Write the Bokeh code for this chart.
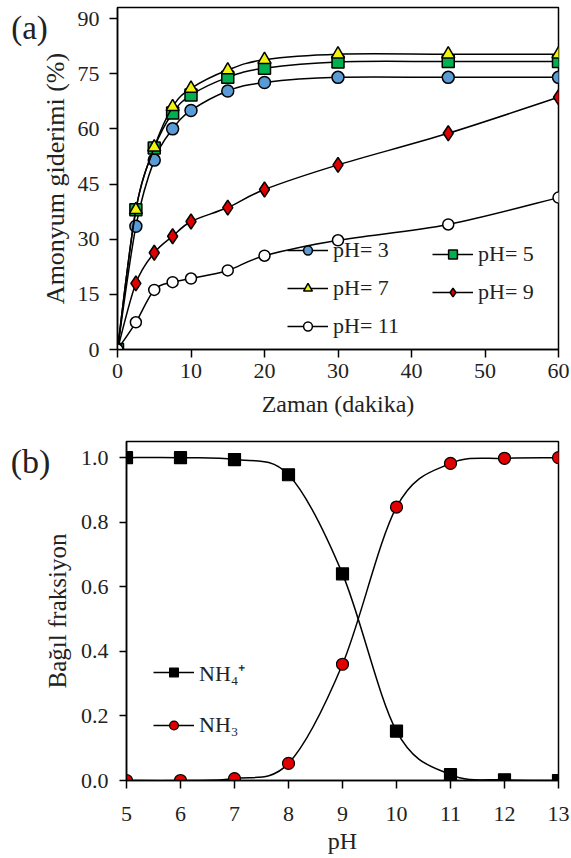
import numpy as np
from bokeh.plotting import figure
from bokeh.models import (Range1d, Legend, LegendItem, Label, FixedTicker,
                          PrintfTickFormatter, ColumnDataSource)
from bokeh.embed import file_html
from bokeh.resources import INLINE

# ---------------- data (a) ----------------
time_min = [0, 2.5, 5, 7.5, 10, 15, 20, 30, 45, 60]
ph3 = [0, 33.5, 51.5, 60.0, 65.0, 70.3, 72.6, 74.0, 74.0, 74.0]
ph5 = [0, 38.0, 54.8, 64.3, 69.2, 74.0, 76.5, 78.2, 78.3, 78.3]
ph7 = [0, 38.0, 55.0, 66.0, 71.0, 76.0, 78.8, 80.3, 80.3, 80.3]
ph9 = [0, 18.0, 26.3, 30.8, 34.8, 38.6, 43.5, 50.2, 58.8, 68.6]
ph11 = [0, 7.4, 16.2, 18.3, 19.3, 21.5, 25.5, 29.7, 34.0, 41.3]

# ---------------- data (b) ----------------
ph_vals = [5, 6, 7, 8, 9, 10, 11, 12, 13]
nh4 = [1.0, 1.0, 0.994, 0.947, 0.640, 0.153, 0.018, 0.002, 0.0]
nh3 = [0.0, 0.0, 0.006, 0.053, 0.360, 0.847, 0.982, 0.998, 1.0]

FONT = "Liberation Serif"


def smooth_source(xs, ys):
    """Bezier segments through the data points (Excel-style smoothed line)."""
    xs = np.asarray(xs, float)
    ys = np.asarray(ys, float)
    n = len(xs)
    d = dict(x0=[], y0=[], x1=[], y1=[], cx0=[], cy0=[], cx1=[], cy1=[])
    for i in range(n - 1):
        xm, ym = (xs[i - 1], ys[i - 1]) if i > 0 else (xs[i], ys[i])
        xp, yp = (xs[i + 2], ys[i + 2]) if i + 2 < n else (xs[i + 1], ys[i + 1])
        d["x0"].append(xs[i]); d["y0"].append(ys[i])
        d["x1"].append(xs[i + 1]); d["y1"].append(ys[i + 1])
        d["cx0"].append(xs[i] + (xs[i + 1] - xm) / 6)
        d["cy0"].append(ys[i] + (ys[i + 1] - ym) / 6)
        d["cx1"].append(xs[i + 1] - (xp - xs[i]) / 6)
        d["cy1"].append(ys[i + 1] - (yp - ys[i]) / 6)
    return ColumnDataSource(d)


def style(p):
    p.toolbar.logo = None
    p.grid.visible = False
    p.outline_line_color = "black"
    p.outline_line_width = 1.5
    p.background_fill_color = "white"
    p.border_fill_color = "white"
    for ax in (p.xaxis[0], p.yaxis[0]):
        ax.axis_line_color = "black"
        ax.axis_line_width = 1.5
        ax.major_tick_line_color = "black"
        ax.major_tick_line_width = 1.5
        ax.major_tick_in = 0
        ax.major_tick_out = 8
        ax.minor_tick_line_color = None
        ax.major_label_text_font = FONT
        ax.major_label_text_font_size = "22px"
        ax.major_label_text_color = "#222222"
        ax.axis_label_text_font = FONT
        ax.axis_label_text_font_style = "normal"
        ax.axis_label_text_color = "#222222"


# ================= (a) =================
pa = figure(width=571, height=430, output_backend="svg", toolbar_location=None,
            x_range=Range1d(0, 60), y_range=Range1d(0, 93),
            min_border_left=117, min_border_right=13, min_border_top=7,
            min_border_bottom=81)
style(pa)
pa.xaxis.ticker = FixedTicker(ticks=[0, 10, 20, 30, 40, 50, 60])
pa.yaxis.ticker = FixedTicker(ticks=[0, 15, 30, 45, 60, 75, 90])
pa.xaxis.axis_label = "Zaman (dakika)"
pa.yaxis.axis_label = "Amonyum giderimi (%)"
pa.xaxis.axis_label_text_font_size = "24px"
pa.yaxis.axis_label_text_font_size = "26px"
pa.xaxis.major_label_standoff = 6
pa.yaxis.major_label_standoff = 10
pa.xaxis.axis_label_standoff = 10
pa.yaxis.axis_label_standoff = 5

series_a = [
    ("pH= 3", ph3, "circle", "#5B9BD5", 12),
    ("pH= 5", ph5, "square", "#00B050", 12),
    ("pH= 7", ph7, "triangle", "#F2F20D", 13),
    ("pH= 9", ph9, "diamond", "#E00000", 15),
    ("pH= 11", ph11, "circle", "white", 11),
]
items_a = {}
for name, ys, marker, color, size in series_a:
    src = smooth_source(time_min, ys)
    b = pa.bezier(x0="x0", y0="y0", x1="x1", y1="y1", cx0="cx0", cy0="cy0",
                  cx1="cx1", cy1="cy1", source=src, line_color="black", line_width=1.5)
    s = pa.scatter(time_min, ys, marker=marker, size=size, fill_color=color,
                   line_color="black", line_width=1.5)
    items_a[name] = LegendItem(label=name, renderers=[b, s])

for names, loc in ((["pH= 3", "pH= 7", "pH= 11"], (170, 10)),
                   (["pH= 5", "pH= 9"], (315, 44))):
    lg = Legend(items=[items_a[n] for n in names], location=loc,
                glyph_width=41, glyph_height=22, label_height=22,
                label_standoff=5, spacing=12, padding=0, margin=0,
                border_line_color=None, background_fill_alpha=0,
                label_text_font=FONT, label_text_font_size="22px",
                label_text_color="#222222")
    pa.add_layout(lg)

pa.add_layout(Label(x=29, y=322, x_units="screen", y_units="screen",
                    text="(a)", text_font=FONT,
                    text_font_size="33px", text_align="center",
                    text_baseline="middle", text_color="#222222"), "left")

# ================= (b) =================
pb = figure(width=571, height=428, output_backend="svg", toolbar_location=None,
            x_range=Range1d(5, 13), y_range=Range1d(0, 1.05),
            min_border_left=125, min_border_right=13, min_border_top=11,
            min_border_bottom=78)
style(pb)
pb.xaxis.ticker = FixedTicker(ticks=ph_vals)
pb.yaxis.ticker = FixedTicker(ticks=[0, 0.2, 0.4, 0.6, 0.8, 1.0])
pb.yaxis.formatter = PrintfTickFormatter(format="%.1f")
pb.xaxis.axis_label = "pH"
pb.yaxis.axis_label = "Bağıl fraksiyon"
pb.xaxis.axis_label_text_font_size = "24px"
pb.yaxis.axis_label_text_font_size = "25px"
pb.xaxis.major_label_standoff = 18
pb.yaxis.major_label_standoff = 11
pb.xaxis.axis_label_standoff = 4
pb.yaxis.axis_label_standoff = 7
pb.yaxis.major_tick_out = 7

items_b = []
for name, ys, marker, color, size in (("NH₄⁺", nh4, "square", "black", 12),
                                      ("NH₃", nh3, "circle", "#E00000", 12)):
    src = smooth_source(ph_vals, ys)
    b = pb.bezier(x0="x0", y0="y0", x1="x1", y1="y1", cx0="cx0", cy0="cy0",
                  cx1="cx1", cy1="cy1", source=src, line_color="black", line_width=1.5)
    s = pb.scatter(ph_vals, ys, marker=marker, size=size, fill_color=color,
                   line_color="black", line_width=1.2)
    items_b.append(LegendItem(label=name, renderers=[b, s]))

lgb = Legend(items=items_b, location=(27, 42), glyph_width=41, glyph_height=22,
             label_height=22, label_standoff=5, spacing=25, padding=0, margin=0,
             border_line_color=None, background_fill_alpha=0,
             label_text_font=FONT, label_text_font_size="22px",
             label_text_color="#222222")
pb.add_layout(lgb)
pb.add_layout(Label(x=30, y=319, x_units="screen", y_units="screen",
                    text="(b)", text_font=FONT,
                    text_font_size="34px", text_align="center",
                    text_baseline="middle", text_color="#222222"), "left")

open("out.html", "w").write(file_html([pa, pb], INLINE))
